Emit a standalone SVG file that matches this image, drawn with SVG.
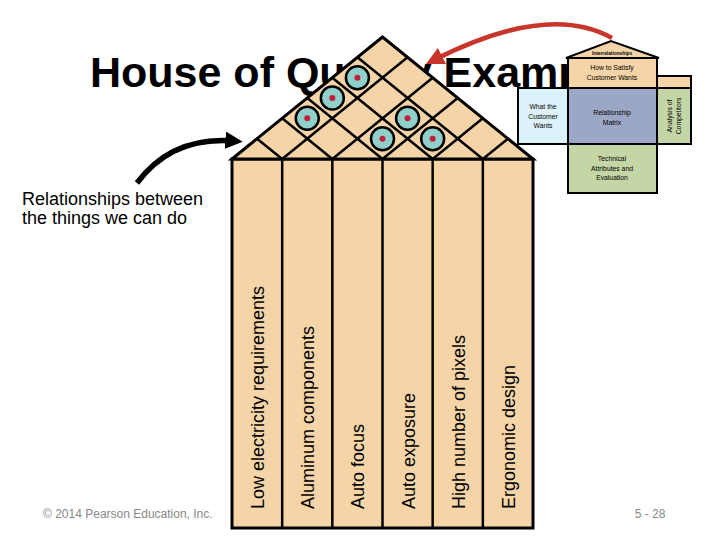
<svg xmlns="http://www.w3.org/2000/svg" width="720" height="540" viewBox="0 0 720 540">
<defs>
<style>
.peach{fill:#F5D5A8;stroke:#000;stroke-width:3}
.grid{stroke:#000;stroke-width:2.5;fill:none}
.col{font-family:"Liberation Sans",Arial,sans-serif;font-size:18px;fill:#000}
.sm{font-family:"Liberation Sans",Arial,sans-serif;font-size:6.8px;fill:#000;text-anchor:middle}
.circ{fill:#8FD0CA;stroke:#000;stroke-width:2.5}
.dot{fill:#C41E3A}
.box{stroke:#000;stroke-width:2}
.foot{font-family:"Liberation Sans",Arial,sans-serif;font-size:12px;fill:#888}
</style>
<marker id="redHead" viewBox="0 0 10 10" refX="5" refY="5" markerWidth="4" markerHeight="4" orient="auto" markerUnits="strokeWidth">
<path d="M0,0 L10,5 L0,10 z" fill="#C8352A"/>
</marker>
<marker id="blackHead" viewBox="0 0 10 10" refX="5" refY="5" markerWidth="3.2" markerHeight="3.2" orient="auto" markerUnits="strokeWidth">
<path d="M0,0 L10,5 L0,10 z" fill="#000"/>
</marker>
</defs>
<rect width="720" height="540" fill="#fff"/>

<text id="title" x="90" y="87" font-family="Liberation Sans,Arial,sans-serif" font-weight="bold" font-size="43" fill="#000">House of Quality Example</text>

<g id="house">
<rect class="peach" x="232" y="159" width="301" height="369"/>
<g class="grid">
<line x1="282.17" y1="159" x2="282.17" y2="528"/>
<line x1="332.33" y1="159" x2="332.33" y2="528"/>
<line x1="382.5" y1="159" x2="382.5" y2="528"/>
<line x1="432.67" y1="159" x2="432.67" y2="528"/>
<line x1="482.83" y1="159" x2="482.83" y2="528"/>
</g>
</g>

<g id="roof">
<polygon points="232,159 382.5,37 533,159" fill="#F5D5A8" stroke="#000" stroke-width="3" stroke-linejoin="miter"/>
<g class="grid">
<line x1="282.17" y1="159" x2="407.58" y2="57.33"/>
<line x1="332.33" y1="159" x2="432.67" y2="77.67"/>
<line x1="382.5" y1="159" x2="457.75" y2="98"/>
<line x1="432.67" y1="159" x2="482.83" y2="118.33"/>
<line x1="482.83" y1="159" x2="507.92" y2="138.67"/>
<line x1="282.17" y1="159" x2="257.08" y2="138.67"/>
<line x1="332.33" y1="159" x2="282.17" y2="118.33"/>
<line x1="382.5" y1="159" x2="307.25" y2="98"/>
<line x1="432.67" y1="159" x2="332.33" y2="77.67"/>
<line x1="482.83" y1="159" x2="357.42" y2="57.33"/>
</g>
<g id="circles">
<circle class="circ" cx="357.42" cy="77.67" r="11.5"/><circle class="dot" cx="357.42" cy="77.67" r="3"/>
<circle class="circ" cx="332.33" cy="98" r="11.5"/><circle class="dot" cx="332.33" cy="98" r="3"/>
<circle class="circ" cx="307.25" cy="118.33" r="11.5"/><circle class="dot" cx="307.25" cy="118.33" r="3"/>
<circle class="circ" cx="407.58" cy="118.33" r="11.5"/><circle class="dot" cx="407.58" cy="118.33" r="3"/>
<circle class="circ" cx="382.5" cy="138.67" r="11.5"/><circle class="dot" cx="382.5" cy="138.67" r="3"/>
<circle class="circ" cx="432.67" cy="138.67" r="11.5"/><circle class="dot" cx="432.67" cy="138.67" r="3"/>
</g>
</g>

<g id="columns">
<text class="col" transform="translate(264,509) rotate(-90)">Low electricity requirements</text>
<text class="col" transform="translate(314.2,509) rotate(-90)">Aluminum components</text>
<text class="col" transform="translate(364.3,509) rotate(-90)">Auto focus</text>
<text class="col" transform="translate(414.5,509) rotate(-90)">Auto exposure</text>
<text class="col" transform="translate(464.7,509) rotate(-90)">High number of pixels</text>
<text class="col" transform="translate(514.8,509) rotate(-90)">Ergonomic design</text>
</g>

<g id="mini-house">
<rect class="box" x="657" y="76" width="34" height="12" fill="#F5D5A8"/>
<polygon points="566,58 611,41 659,58" fill="#F5D5A8" stroke="#000" stroke-width="2"/>
<text class="sm" x="612" y="54.5" style="font-size:4.8px" font-weight="bold">Interrelationships</text>
<rect class="box" x="568" y="58" width="89" height="30" fill="#F5D5A8"/>
<text class="sm" x="612" y="70">How to Satisfy</text>
<text class="sm" x="612" y="80">Customer Wants</text>
<rect class="box" x="518" y="88" width="50" height="56" fill="#DDF3FC"/>
<text class="sm" x="543" y="109">What the</text>
<text class="sm" x="543" y="118.5">Customer</text>
<text class="sm" x="543" y="128">Wants</text>
<rect class="box" x="568" y="88" width="89" height="56" fill="#9BA7C5"/>
<text class="sm" x="612" y="115">Relationship</text>
<text class="sm" x="612" y="125">Matrix</text>
<rect class="box" x="657" y="88" width="34" height="56" fill="#C5D6A6"/>
<text class="sm" transform="translate(672,116) rotate(-90)">Analysis of</text>
<text class="sm" transform="translate(681,116) rotate(-90)">Competitors</text>
<rect class="box" x="568" y="144" width="89" height="49" fill="#C5D6A6"/>
<text class="sm" x="612" y="161">Technical</text>
<text class="sm" x="612" y="170.5">Attributes and</text>
<text class="sm" x="612" y="180">Evaluation</text>
</g>

<g id="connectors">
<path d="M612,38 Q548,2 434,60" fill="none" stroke="#C8352A" stroke-width="4.5" marker-end="url(#redHead)"/>
<path d="M137,183 Q172,136 234,141" fill="none" stroke="#000" stroke-width="5.5" marker-end="url(#blackHead)"/>
</g>

<g id="labels">
<text x="22" y="205" font-family="Liberation Sans,Arial,sans-serif" font-size="18" fill="#000">Relationships between</text>
<text x="22" y="224" font-family="Liberation Sans,Arial,sans-serif" font-size="18" fill="#000">the things we can do</text>
<text class="foot" x="43" y="518">© 2014 Pearson Education, Inc.</text>
<text class="foot" x="650" y="518" text-anchor="middle">5 - 28</text>
</g>
</svg>
